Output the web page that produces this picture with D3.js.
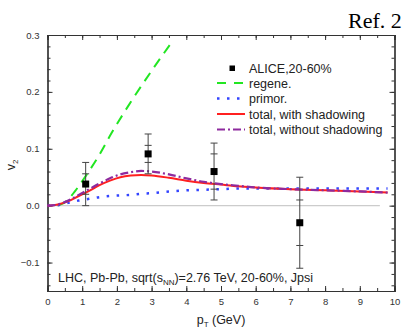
<!DOCTYPE html>
<html lang="en">
<head>
    <meta charset="utf-8">
    <title>J/psi v2 vs pT</title>
    <script src="https://cdn.jsdelivr.net/npm/d3@7"></script>
    <style type="text/css">
        body { margin: 0; background: white; }
    </style>
</head>
<body>
<script type="text/javascript">

    // ALICE points (pT, v2, stat err, total err)
    var alicePt = [1.1, 2.9, 4.8, 7.27];
    var aliceV2 = [0.038, 0.091, 0.060, -0.030];
    var aliceStat = [0.018, 0.015, 0.031, 0.040];
    var aliceTot = [0.038, 0.035, 0.050, 0.080];

    var regenePt = [0.3, 0.55, 0.8, 1.1, 1.5, 1.85, 2.44, 3.0, 3.6];
    var regeneV2 = [0.0, 0.008, 0.026, 0.052, 0.090, 0.128, 0.186, 0.237, 0.289];

    var curvePt = [0, 0.3, 0.6, 0.9, 1.2, 1.5, 1.8, 2.1, 2.4, 2.7, 3.0, 3.5, 4.0, 4.5, 5.0, 5.5, 6, 7, 8, 9, 9.8];
    var primorV2 = [0, 0.001, 0.005, 0.009, 0.012, 0.015, 0.017, 0.018, 0.019, 0.021, 0.022, 0.025, 0.027, 0.028, 0.029, 0.030, 0.030, 0.030, 0.030, 0.030, 0.030];
    var withShadV2 = [0, 0.002, 0.008, 0.017, 0.026, 0.036, 0.044, 0.050, 0.053, 0.054, 0.053, 0.049, 0.044, 0.040, 0.037, 0.034, 0.032, 0.029, 0.027, 0.025, 0.023];
    var noShadV2 = [0, 0.002, 0.009, 0.019, 0.029, 0.039, 0.048, 0.055, 0.059, 0.061, 0.060, 0.055, 0.048, 0.042, 0.038, 0.035, 0.032, 0.029, 0.027, 0.025, 0.023];

    var xTicks = [0, 1, 2, 3, 4, 5, 6, 7, 8, 9, 10];
    var yTicks = [-0.1, 0.0, 0.1, 0.2, 0.3];

    var width = 402, height = 330;
    var plotL = 47.5, plotR = 394.5, plotT = 35, plotB = 291;
    var sans = "Liberation Sans, Arial, sans-serif";

    var svg = d3.select("body").append("svg")
        .attr("width", width)
        .attr("height", height)
        .attr("font-family", sans);

    var x = d3.scaleLinear().domain([0, 10]).range([plotL, plotR]);
    var y = d3.scaleLinear().domain([-0.15, 0.3]).range([plotB, plotT]);

    // ticks, all inward
    var xMinor = d3.range(0, 10.01, 0.5);
    var yMinor = d3.range(-0.14, 0.301, 0.02);

    function tickFmt(d) { return d3.format(".1f")(d); }

    svg.append("g").attr("transform", "translate(0," + plotB + ")")
        .call(d3.axisBottom(x).tickValues(xTicks).tickSize(-5).tickPadding(7).tickFormat(d3.format("d")));
    svg.append("g").attr("transform", "translate(0," + plotB + ")")
        .call(d3.axisBottom(x).tickValues(xMinor).tickSize(-3).tickFormat(""));
    svg.append("g").attr("transform", "translate(0," + plotT + ")")
        .call(d3.axisTop(x).tickValues(xTicks).tickSize(-5).tickFormat(""));
    svg.append("g").attr("transform", "translate(0," + plotT + ")")
        .call(d3.axisTop(x).tickValues(xMinor).tickSize(-3).tickFormat(""));
    svg.append("g").attr("transform", "translate(" + plotL + ",0)")
        .call(d3.axisLeft(y).tickValues(yTicks).tickSize(-5).tickPadding(8).tickFormat(tickFmt));
    svg.append("g").attr("transform", "translate(" + plotL + ",0)")
        .call(d3.axisLeft(y).tickValues(yMinor).tickSize(-3).tickFormat(""));
    svg.append("g").attr("transform", "translate(" + plotR + ",0)")
        .call(d3.axisRight(y).tickValues(yTicks).tickSize(-5).tickFormat(""));
    svg.append("g").attr("transform", "translate(" + plotR + ",0)")
        .call(d3.axisRight(y).tickValues(yMinor).tickSize(-3).tickFormat(""));

    svg.selectAll(".domain").attr("stroke", "#333").attr("stroke-width", 1.2);
    svg.selectAll(".tick line").attr("stroke", "#333");
    svg.selectAll(".tick text").attr("font-size", "9.5px").attr("fill", "#333")
        .attr("font-family", sans);

    // zero line
    svg.append("line")
        .attr("x1", x(0)).attr("x2", x(9.58))
        .attr("y1", y(0)).attr("y2", y(0))
        .attr("stroke", "#999").attr("stroke-width", 1.2)
        .attr("stroke-dasharray", "1,1");

    var line = d3.line().curve(d3.curveMonotoneX)
        .x(function (d) { return x(d[0]); })
        .y(function (d) { return y(d[1]); });

    function pairs(xs, ys) { return xs.map(function (v, i) { return [v, ys[i]]; }); }

    svg.append("path").datum(pairs(regenePt, regeneV2)).attr("d", line)
        .attr("fill", "none").attr("stroke", "#22e622").attr("stroke-width", 2)
        .attr("stroke-dasharray", "10,7");
    svg.append("path").datum(pairs(curvePt, primorV2)).attr("d", line)
        .attr("fill", "none").attr("stroke", "#3344ff").attr("stroke-width", 2.5)
        .attr("stroke-dasharray", "2.5,7.5");
    svg.append("path").datum(pairs(curvePt, withShadV2)).attr("d", line)
        .attr("fill", "none").attr("stroke", "#ff2020").attr("stroke-width", 2);
    svg.append("path").datum(pairs(curvePt, noShadV2)).attr("d", line)
        .attr("fill", "none").attr("stroke", "#8e2a9e").attr("stroke-width", 2.2)
        .attr("stroke-dasharray", "8,3,2,3");

    // error bars
    var eb = svg.append("g").attr("stroke", "#444").attr("stroke-width", 1);
    alicePt.forEach(function (p, i) {
        var cx = x(p);
        eb.append("line").attr("x1", cx).attr("x2", cx)
            .attr("y1", y(aliceV2[i] + aliceTot[i])).attr("y2", y(aliceV2[i] - aliceTot[i]));
        [aliceTot[i], -aliceTot[i], aliceStat[i], -aliceStat[i]].forEach(function (e) {
            eb.append("line").attr("x1", cx - 3.5).attr("x2", cx + 3.5)
                .attr("y1", y(aliceV2[i] + e)).attr("y2", y(aliceV2[i] + e));
        });
    });
    svg.selectAll(".pt").data(alicePt).enter().append("rect")
        .attr("x", function (d) { return x(d) - 3.5; })
        .attr("y", function (d, i) { return y(aliceV2[i]) - 3.5; })
        .attr("width", 7).attr("height", 7).attr("fill", "#000");

    // legend
    var lg = svg.append("g");
    var lx1 = 217, lx2 = 245, tx = 249;
    var rows = [68, 83, 98.5, 114, 129.5];
    lg.append("rect").attr("x", 229.5).attr("y", rows[0] - 2.5).attr("width", 5.5).attr("height", 5.5).attr("fill", "#000");
    lg.append("line").attr("x1", lx1).attr("x2", lx2).attr("y1", rows[1]).attr("y2", rows[1])
        .attr("stroke", "#22e622").attr("stroke-width", 2).attr("stroke-dasharray", "9,8");
    lg.append("line").attr("x1", lx1).attr("x2", lx2).attr("y1", rows[2]).attr("y2", rows[2])
        .attr("stroke", "#3344ff").attr("stroke-width", 2.5).attr("stroke-dasharray", "2.5,7.5");
    lg.append("line").attr("x1", lx1).attr("x2", lx2).attr("y1", rows[3]).attr("y2", rows[3])
        .attr("stroke", "#ff2020").attr("stroke-width", 2);
    lg.append("line").attr("x1", lx1).attr("x2", lx2).attr("y1", rows[4]).attr("y2", rows[4])
        .attr("stroke", "#8e2a9e").attr("stroke-width", 2.2).attr("stroke-dasharray", "8,3,2,3");
    var legendText = ["ALICE,20-60%", "regene.", "primor.", "total, with shadowing", "total, without shadowing"];
    lg.selectAll("text").data(legendText).enter().append("text")
        .attr("x", tx).attr("y", function (d, i) { return rows[i] + 4.5; })
        .attr("font-size", "12.5px").attr("fill", "#222")
        .text(function (d) { return d; });

    // annotation
    var ann = svg.append("text").attr("x", 58).attr("y", 282)
        .attr("font-size", "12.5px").attr("fill", "#222");
    ann.append("tspan").text("LHC, Pb-Pb, sqrt(s");
    ann.append("tspan").attr("font-size", "8px").attr("dy", 3).text("NN");
    ann.append("tspan").attr("dy", -3).text(")=2.76 TeV, 20-60%, Jpsi");

    // axis titles
    var xt = svg.append("text").attr("x", 221).attr("y", 324)
        .attr("text-anchor", "middle").attr("font-size", "12.5px").attr("fill", "#222");
    xt.append("tspan").text("p");
    xt.append("tspan").attr("font-size", "8px").attr("dy", 3).text("T");
    xt.append("tspan").attr("dy", -3).text(" (GeV)");

    var yt = svg.append("text").attr("transform", "translate(15,165) rotate(-90)")
        .attr("text-anchor", "middle").attr("font-size", "12.5px").attr("fill", "#222");
    yt.append("tspan").text("v");
    yt.append("tspan").attr("font-size", "8px").attr("dy", 3).text("2");

    svg.append("text").attr("x", 348).attr("y", 28)
        .attr("font-family", "Liberation Serif, Times New Roman, serif")
        .attr("font-size", "22px").attr("fill", "#000")
        .text("Ref. 2");

</script>
</body>
</html>
